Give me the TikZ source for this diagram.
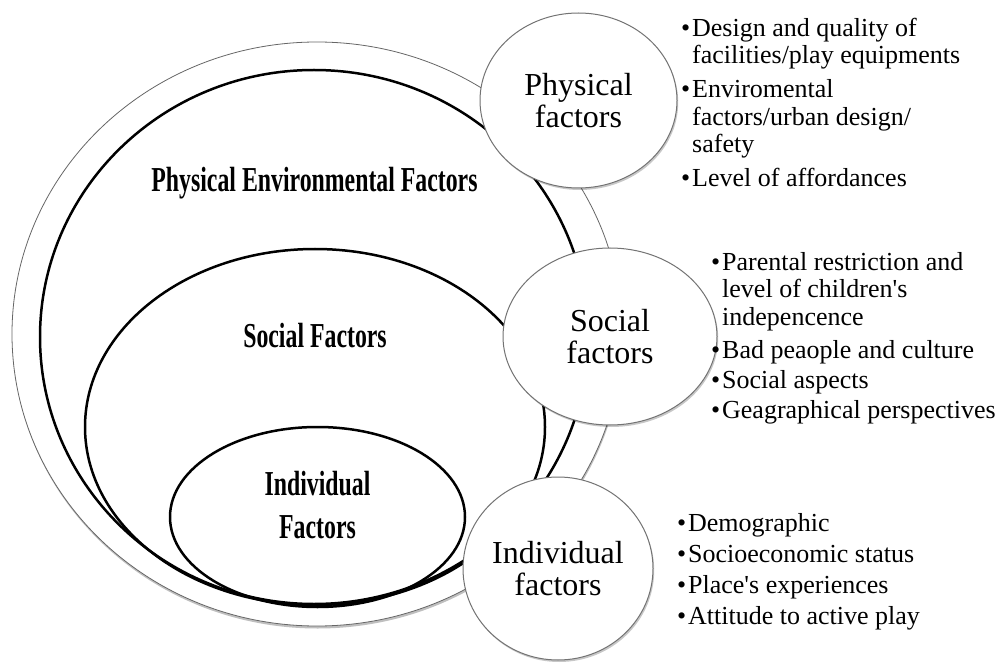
\documentclass[tikz,border=0pt]{standalone}
\usepackage{fontspec}
\setmainfont{Liberation Serif}
\usetikzlibrary{shapes.geometric,shadows}
\tikzset{
  layerell/.style={ellipse, inner sep=0pt, draw=black, line width=2.5pt},
  outerell/.style={ellipse, inner sep=0pt, draw=black!60, line width=0.8pt, fill=white,
    drop shadow={shadow xshift=0.6pt, shadow yshift=-2.5pt, opacity=0.25, fill=black}},
  factorcirc/.style={ellipse, inner sep=0pt, draw=black!55, line width=1pt, fill=white,
    align=center, font=\fontsize{32}{32}\selectfont,
    drop shadow={shadow xshift=1.2pt, shadow yshift=-2pt, opacity=0.22, fill=black}},
  layerlabel/.style={anchor=base, inner sep=0pt, align=center, font=\bfseries\fontsize{35}{43}\selectfont},
  itemtext/.style={anchor=base west, inner sep=0pt, align=left, font=\fontsize{26}{27.5}\selectfont},
}
\newcommand{\bul}{\llap{\textbullet\hspace{2pt}}}
\begin{document}
\begin{tikzpicture}[x=1pt,y=-1pt]
\useasboundingbox (0,0) rectangle (1004,663);
% layered ellipses
\node[outerell, minimum width=610pt, minimum height=584pt] (outer) at (317,334) {};
\node[layerell, minimum width=548pt, minimum height=534pt] (envl) at (314,337) {};
\node[layerell, minimum width=460pt, minimum height=356pt] (socl) at (315,427) {};
\node[layerell, minimum width=295pt, minimum height=180pt] (indl) at (317.5,517) {};
% layer labels
\node[layerlabel] (envlab) at (314.5,192) {\scalebox{0.68}[1]{Physical Environmental Factors}};
\node[layerlabel] (soclab) at (315,347) {\scalebox{0.68}[1]{Social Factors}};
\node[layerlabel] (indlab1) at (317.5,495) {\scalebox{0.68}[1]{Individual}};
\node[layerlabel] (indlab2) at (317.5,538) {\scalebox{0.68}[1]{Factors}};
% factor circles
\node[factorcirc, minimum width=197pt, minimum height=175pt] (phys) at (578.5,100.5) {Physical\\factors};
\node[factorcirc, minimum width=214pt, minimum height=177pt] (soc) at (610,336.5) {Social\\factors};
\node[factorcirc, minimum width=190pt, minimum height=183pt] (ind) at (558,568.5) {Individual\\factors};
% physical list (anchor = baseline of last line)
\node[itemtext] (p1) at (692,64) {\bul Design and quality of\\facilities/play equipments};
\node[itemtext] (p2) at (692,153) {\bul Enviromental\\factors/urban design/\\safety};
\node[itemtext] (p3) at (692,187) {\bul Level of affordances};
% social list
\node[itemtext] (s1) at (722,325) {\bul Parental restriction and\\level of children\textquotesingle s\\indepencence};
\node[itemtext] (s2) at (722,358) {\bul Bad peaople and culture};
\node[itemtext] (s3) at (722,388) {\bul Social aspects};
\node[itemtext] (s4) at (722,418) {\bul Geagraphical perspectives};
% individual list
\node[itemtext] (i1) at (688,531) {\bul Demographic};
\node[itemtext] (i2) at (688,562) {\bul Socioeconomic status};
\node[itemtext] (i3) at (688,593) {\bul Place\textquotesingle s experiences};
\node[itemtext] (i4) at (688,624) {\bul Attitude to active play};
\end{tikzpicture}
\end{document}
